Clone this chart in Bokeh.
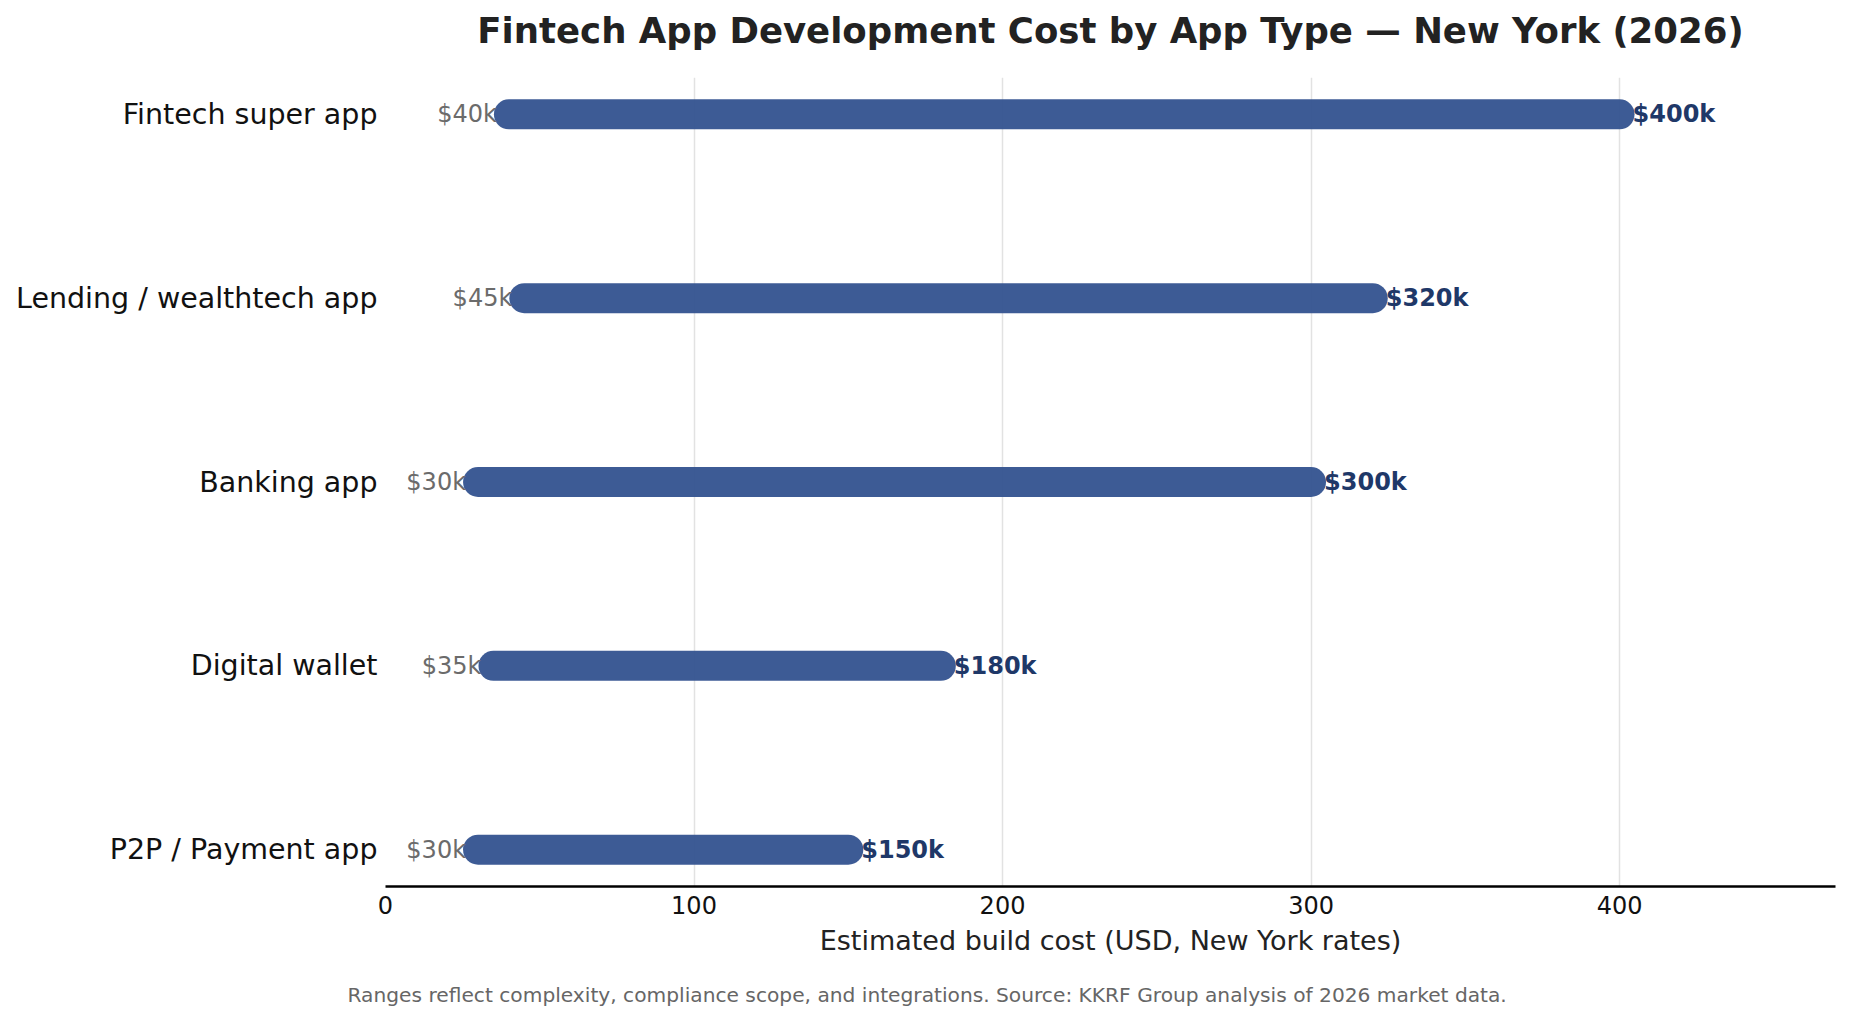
from bokeh.plotting import figure
from bokeh.models import Range1d, FixedTicker, Title, ColumnDataSource
from bokeh.core.properties import value
from bokeh.embed import file_html
from bokeh.resources import INLINE

# App types, listed bottom to top
apps = ["P2P / Payment app", "Digital wallet", "Banking app",
        "Lending / wealthtech app", "Fintech super app"]
# Estimated build cost range, in thousands of USD
low_k = [30, 35, 30, 45, 40]
high_k = [150, 180, 300, 320, 400]
x_ticks = [0, 100, 200, 300, 400]

FONT = "DejaVu Sans"
BAR = "#33528f"

pos = list(range(len(apps)))
src = ColumnDataSource(dict(
    y=pos,
    low=low_k,
    high=high_k,
    low_lbl=[f"${v}k" for v in low_k],
    high_lbl=[f"${v}k" for v in high_k],
))

p = figure(width=1852, height=1022, output_backend="svg", toolbar_location=None,
           x_range=Range1d(0, 470), y_range=Range1d(-0.2, 4.2),
           min_border_left=385, min_border_right=17,
           min_border_top=77, min_border_bottom=136)
p.outline_line_color = None
p.background_fill_color = "white"
p.border_fill_color = "white"

# Range bars with rounded ends
p.segment(x0="low", y0="y", x1="high", y1="y", source=src,
          line_width=30, line_cap="round", line_color=BAR, line_alpha=0.95)

# Value labels at both ends
p.text(x="low", y="y", text="low_lbl", source=src,
       text_align="right", text_baseline="middle", x_offset=-12,
       text_font=value(FONT), text_font_size="24px", text_color="#6b6b6b")
p.text(x="high", y="y", text="high_lbl", source=src,
       text_align="left", text_baseline="middle", x_offset=13,
       text_font=value(FONT), text_font_size="24px", text_font_style="bold",
       text_color="#1f3868")

# X axis
p.xaxis.ticker = FixedTicker(ticks=x_ticks)
p.xaxis.axis_label = "Estimated build cost (USD, New York rates)"
p.xaxis.axis_label_text_font = FONT
p.xaxis.axis_label_text_font_size = "27px"
p.xaxis.axis_label_text_font_style = "normal"
p.xaxis.axis_label_text_color = "#222222"
p.xaxis.axis_label_standoff = 8
p.xaxis.major_label_text_font = FONT
p.xaxis.major_label_text_font_size = "24px"
p.xaxis.major_label_text_color = "#111111"
p.xaxis.major_label_standoff = 3
p.xaxis.axis_line_color = "black"
p.xaxis.axis_line_width = 2.5
p.xaxis.major_tick_line_color = None
p.xaxis.minor_tick_line_color = None

# Y axis with category names
p.yaxis.ticker = FixedTicker(ticks=pos)
p.yaxis.major_label_overrides = {i: name for i, name in zip(pos, apps)}
p.yaxis.major_label_text_font = FONT
p.yaxis.major_label_text_font_size = "28.5px"
p.yaxis.major_label_text_color = "#111111"
p.yaxis.major_label_standoff = 2
p.yaxis.axis_line_color = None
p.yaxis.major_tick_line_color = None
p.yaxis.minor_tick_line_color = None

# Grid: vertical lines only
p.ygrid.grid_line_color = None
p.xgrid.ticker = FixedTicker(ticks=x_ticks)
p.xgrid.grid_line_color = "#e2e2e2"
p.xgrid.grid_line_width = 1.5

# Title, with a blank gap panel between it and the frame
gap_top = Title(text=" ", text_font_size="1px", standoff=24)
title = Title(text="Fintech App Development Cost by App Type \u2014 New York (2026)",
              align="center", vertical_align="bottom", standoff=0,
              text_font=FONT, text_font_size="35.5px", text_font_style="bold",
              text_color="#222222")
p.add_layout(gap_top, "above")
p.add_layout(title, "above")

# Footnote, below the axis after a blank gap
gap_bottom = Title(text=" ", text_font_size="1px", standoff=19)
note = Title(text="Ranges reflect complexity, compliance scope, and integrations. "
                  "Source: KKRF Group analysis of 2026 market data.",
             align="left", offset=-38, vertical_align="bottom", standoff=0,
             text_font=FONT, text_font_size="20.2px",
             text_font_style="normal", text_color="#666666")
p.add_layout(gap_bottom, "below")
p.add_layout(note, "below")

open("out.html", "w").write(file_html(p, INLINE))
